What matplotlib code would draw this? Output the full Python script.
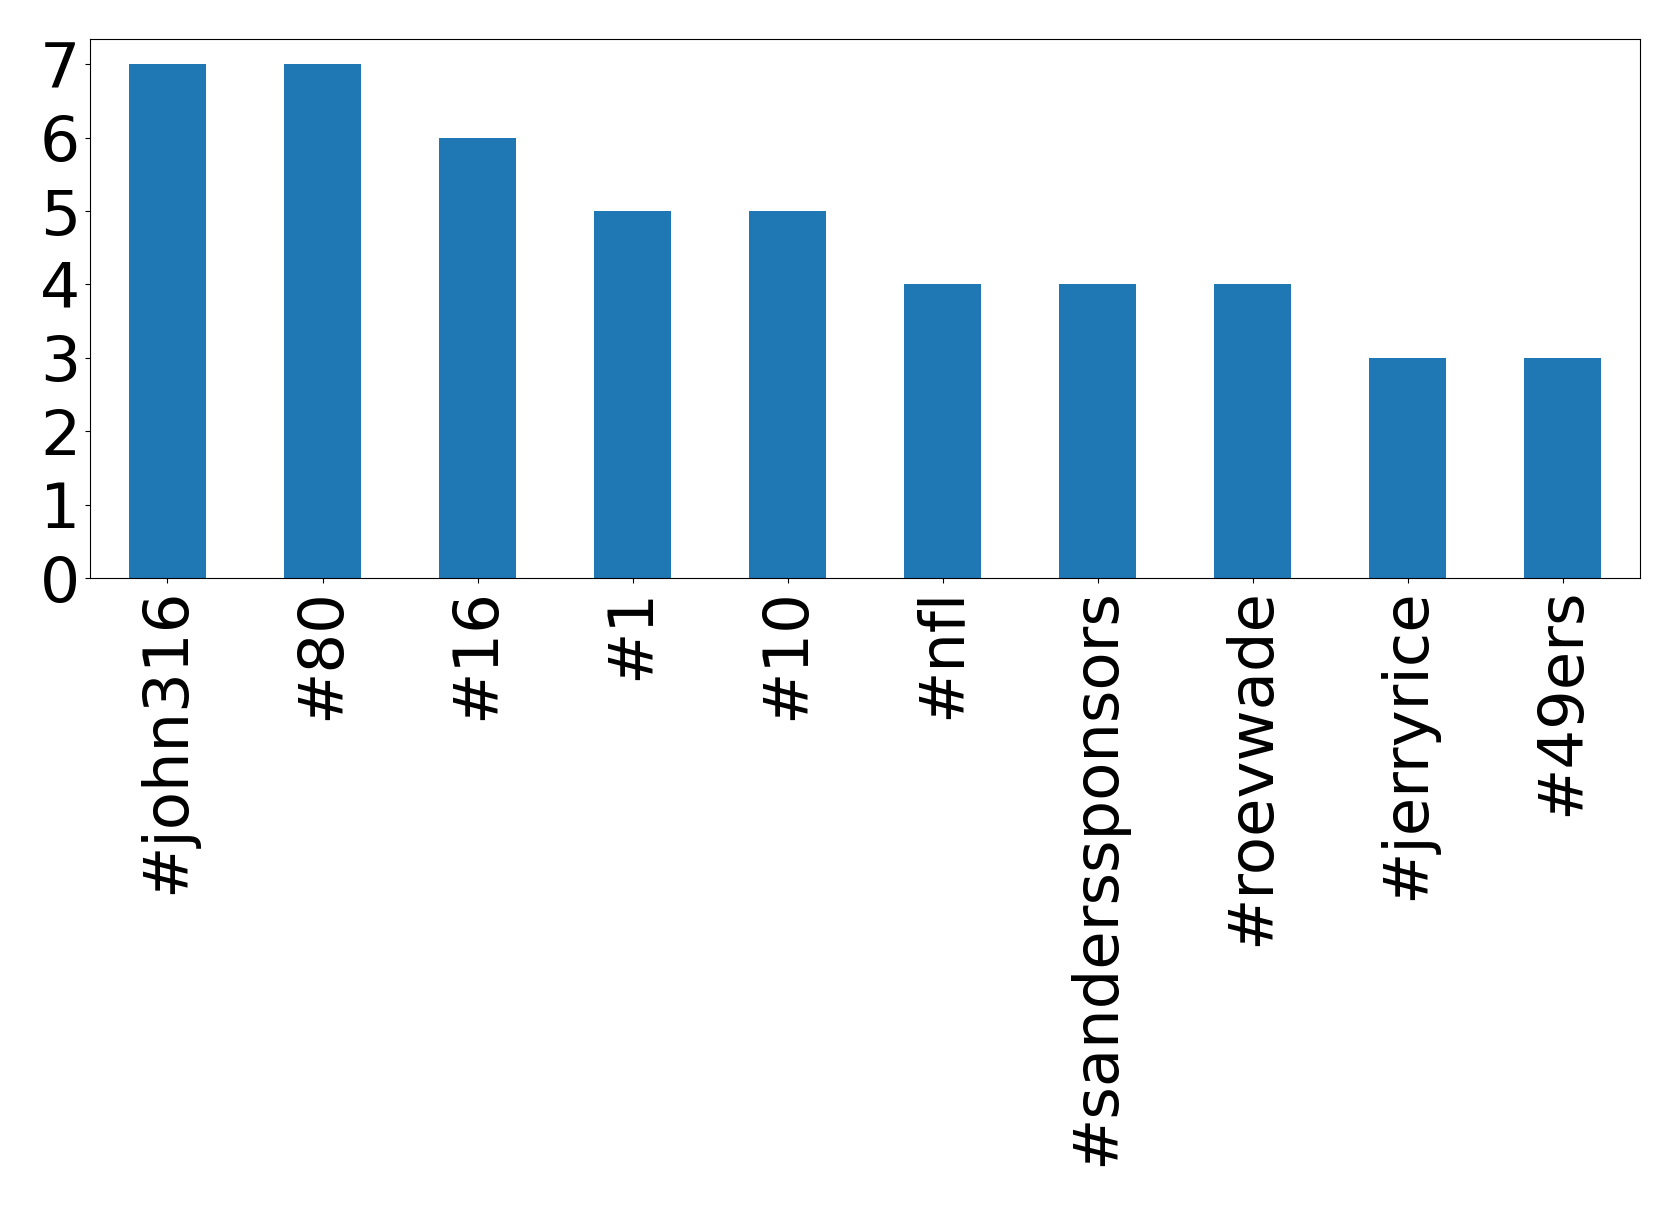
import matplotlib
matplotlib.use("Agg")
import matplotlib.pyplot as plt

categories = ["#john316", "#80", "#16", "#1", "#10", "#nfl", "#sanderssponsors", "#roevwade", "#jerryrice", "#49ers"]
counts = [7, 7, 6, 5, 5, 4, 4, 4, 3, 3]

fig = plt.figure(figsize=(16.79, 12.06), dpi=100)
ax = fig.add_axes([0.0536, 0.5207, 0.9768 - 0.0536, 0.968 - 0.5207])
x = list(range(len(categories)))
ax.bar(x, counts, width=0.5, color="#1f77b4")
ax.set_xlim(-0.5, len(categories) - 0.5)
ax.set_ylim(0, 7.35)
ax.set_xticks(x)
ax.set_xticklabels(categories, rotation=90, fontsize=45)
ax.set_yticks(range(0, 8))
ax.tick_params(axis="y", labelsize=45.5)
fig.savefig("out.png", dpi=100)
